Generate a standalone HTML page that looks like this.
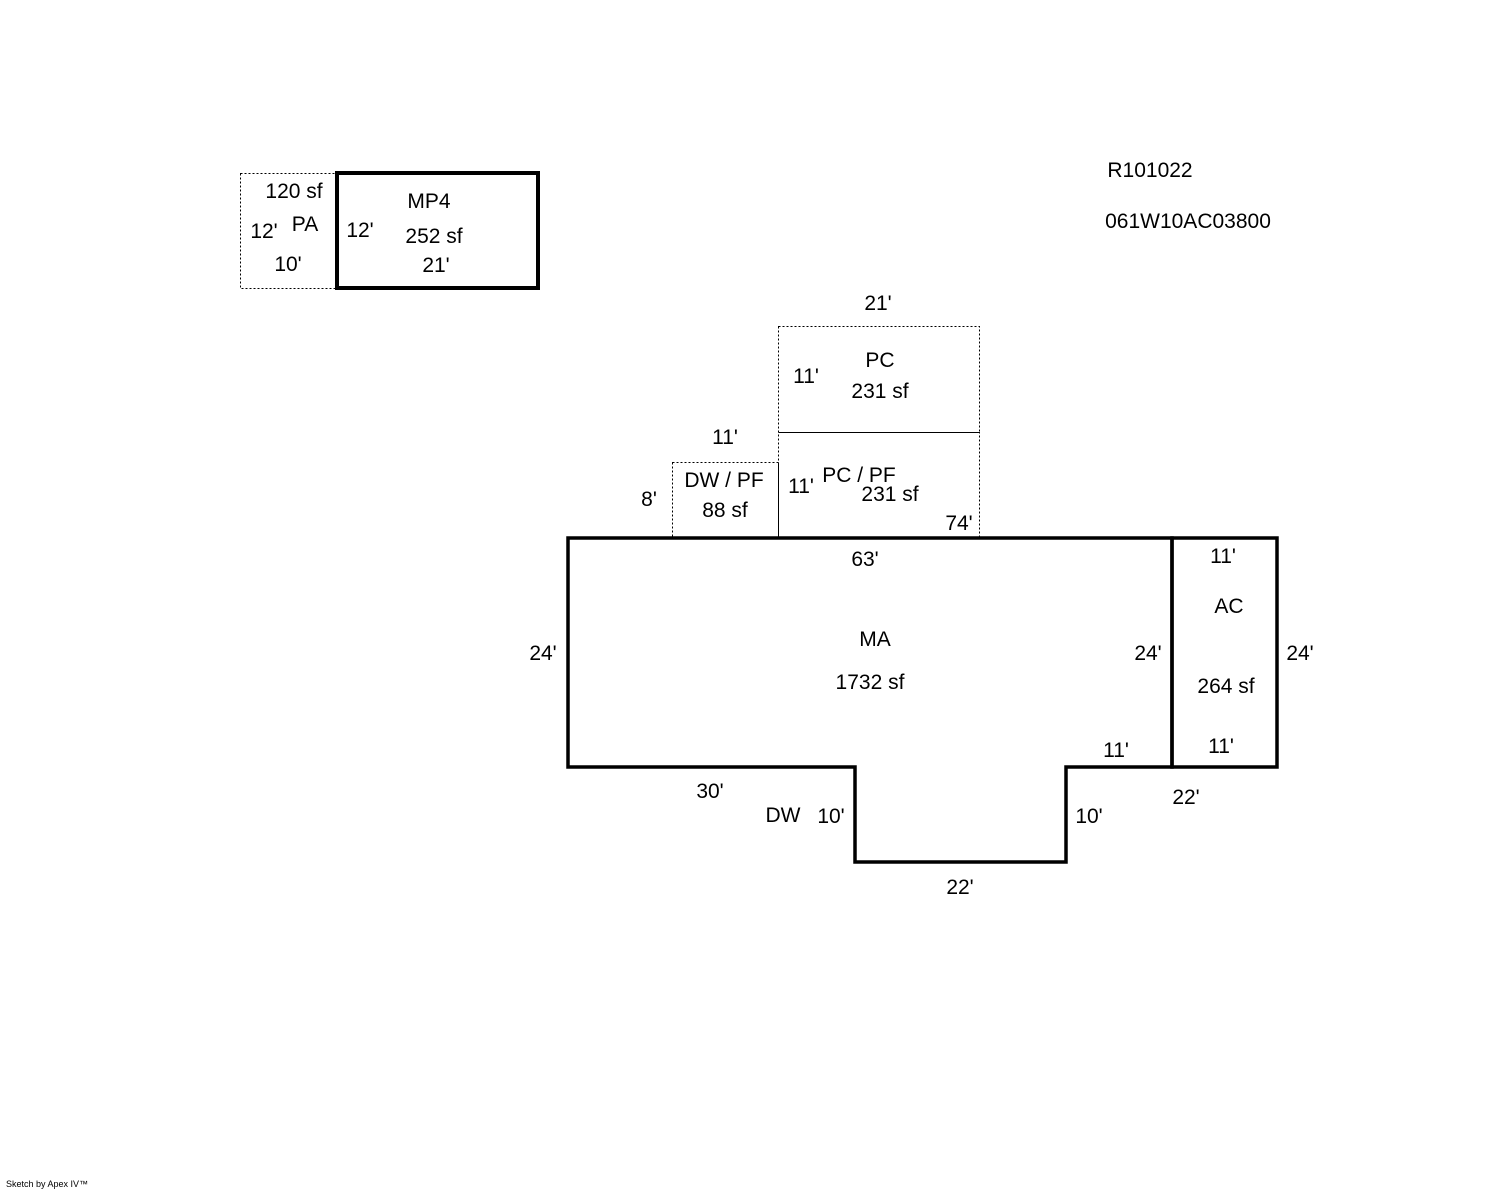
<!DOCTYPE html>
<html><head><meta charset="utf-8"><style>
html,body{margin:0;padding:0;background:#fff;}
svg{display:block;}
text{font-family:"Liberation Sans",Arial,sans-serif;font-size:21px;fill:#000;text-anchor:middle;}
</style></head><body>
<svg width="1488" height="1190" viewBox="0 0 1488 1190" xmlns="http://www.w3.org/2000/svg">
<g fill="none" stroke="#000" stroke-width="1" stroke-dasharray="2,2">
<rect x="240.5" y="173.5" width="96" height="115"/>
<rect x="778.5" y="326.5" width="201" height="106"/>
<rect x="778.5" y="432.5" width="201" height="105"/>
<rect x="672.5" y="462.5" width="106" height="75"/>
</g>
<g fill="none" stroke="#000" stroke-width="4">
<rect x="337" y="173" width="201" height="115"/>
</g>
<g fill="none" stroke="#000" stroke-width="3.5">
<polygon points="568,538 1172,538 1172,767 1066,767 1066,862 855,862 855,767 568,767"/>
<rect x="1172" y="538" width="105" height="229"/>
</g>
<text x="294" y="198">120 sf</text>
<text x="305" y="231">PA</text>
<text x="264" y="238">12'</text>
<text x="288" y="271">10'</text>
<text x="429" y="208">MP4</text>
<text x="360" y="237">12'</text>
<text x="434" y="243">252 sf</text>
<text x="436" y="272">21'</text>
<text x="1150" y="177">R101022</text>
<text x="1188" y="228">061W10AC03800</text>
<text x="878" y="310">21'</text>
<text x="880" y="367">PC</text>
<text x="806" y="383">11'</text>
<text x="880" y="398">231 sf</text>
<text x="725" y="444">11'</text>
<text x="724" y="487">DW / PF</text>
<text x="725" y="517">88 sf</text>
<text x="649" y="506">8'</text>
<text x="801" y="493">11'</text>
<text x="859" y="482">PC / PF</text>
<text x="890" y="501">231 sf</text>
<text x="959" y="530">74'</text>
<text x="865" y="566">63'</text>
<text x="875" y="646">MA</text>
<text x="870" y="689">1732 sf</text>
<text x="543" y="660">24'</text>
<text x="1148" y="660">24'</text>
<text x="1300" y="660">24'</text>
<text x="1223" y="563">11'</text>
<text x="1229" y="613">AC</text>
<text x="1226" y="693">264 sf</text>
<text x="1221" y="753">11'</text>
<text x="1116" y="757">11'</text>
<text x="710" y="798">30'</text>
<text x="783" y="822">DW</text>
<text x="831" y="823">10'</text>
<text x="1089" y="823">10'</text>
<text x="1186" y="804">22'</text>
<text x="960" y="894">22'</text>
<text x="6" y="1187" style="font-size:9px;text-anchor:start">Sketch by Apex IV™</text>
</svg>
</body></html>
